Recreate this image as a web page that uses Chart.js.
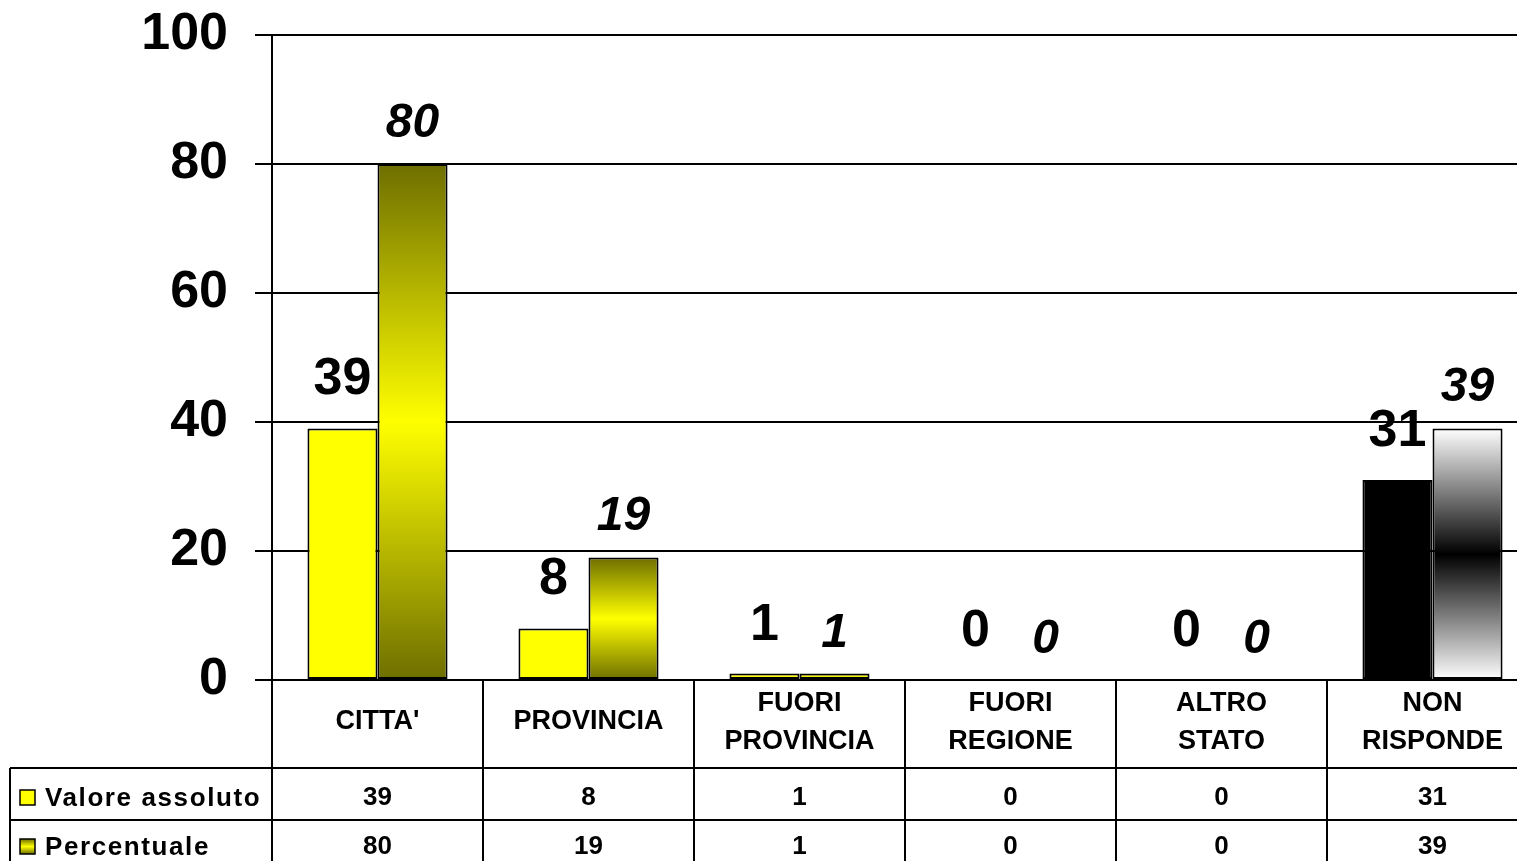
<!DOCTYPE html>
<html>
<head>
<meta charset="utf-8">
<script src="https://cdn.jsdelivr.net/npm/chart.js@4"></script>
<style>
  html, body { margin: 0; padding: 0; background: #fff; overflow: hidden; }
  #wrap { width: 1540px; height: 861px; }
</style>
</head>
<body>
<div id="wrap"><canvas id="grafico" width="1540" height="861"></canvas></div>
<script>
// dati
const categorie = [["CITTA'"], ["PROVINCIA"], ["FUORI", "PROVINCIA"], ["FUORI", "REGIONE"], ["ALTRO", "STATO"], ["NON", "RISPONDE"]];
const valoreAssoluto = [39, 8, 1, 0, 0, 31];
const percentuale = [80, 19, 1, 0, 0, 39];
const nomiSerie = ['Valore assoluto', 'Percentuale'];
const yMin = 0, yMax = 100, yStep = 20;

const FONT = "'Liberation Sans', Arial, sans-serif";
Chart.defaults.font.family = FONT;
Chart.defaults.color = '#000';

const GIALLO = '#FFFF00';
const OLIVA = '#6E6E00';

// gradiente verticale per barra: bordo - centro - bordo
function gradienteBarra(c, bordo, centro) {
    const chart = c.chart;
    if (!chart.chartArea || c.type !== 'data') return centro;
    const y = chart.scales.y;
    const top = y.getPixelForValue(c.raw);
    const base = y.getPixelForValue(0);
    if (base - top < 1) return centro;
    const g = chart.ctx.createLinearGradient(0, top, 0, base);
    g.addColorStop(0, bordo);
    g.addColorStop(0.5, centro);
    g.addColorStop(1, bordo);
    return g;
}

// etichette sopra le barre
const etichette = {
    id: 'etichette',
    afterDatasetsDraw(chart) {
        const ctx = chart.ctx;
        ctx.save();
        ctx.fillStyle = '#000';
        ctx.textAlign = 'center';
        ctx.textBaseline = 'alphabetic';
        chart.data.datasets.forEach((ds, i) => {
            const meta = chart.getDatasetMeta(i);
            ctx.font = i === 0 ? `bold 52px ${FONT}` : `italic bold 48px ${FONT}`;
            const gap = i === 0 ? 34 : 27;
            meta.data.forEach((el, j) => {
                ctx.fillText(String(ds.data[j]), el.x, el.y - gap);
            });
        });
        ctx.restore();
    }
};

// tabella dati sotto il grafico
const tabella = {
    id: 'tabella',
    afterDraw(chart) {
        const ctx = chart.ctx;
        const x = chart.scales.x;
        const area = chart.chartArea;
        const larg = x.getPixelForValue(1) - x.getPixelForValue(0);
        const riga1 = 768, riga2 = 820, fondo = 861;
        const sinistra = 10;

        ctx.save();
        ctx.strokeStyle = '#000';
        ctx.lineWidth = 2;
        ctx.beginPath();
        // asse verticale prolungato
        ctx.moveTo(area.left, area.bottom);
        ctx.lineTo(area.left, fondo + 5);
        // separatori colonne
        for (let i = 1; i < categorie.length; i++) {
            const cx = x.getPixelForValue(i) - larg / 2;
            ctx.moveTo(cx, area.bottom);
            ctx.lineTo(cx, fondo + 5);
        }
        // righe
        ctx.moveTo(sinistra, riga1);
        ctx.lineTo(chart.width, riga1);
        ctx.moveTo(sinistra, riga2);
        ctx.lineTo(chart.width, riga2);
        ctx.moveTo(sinistra, riga1);
        ctx.lineTo(sinistra, fondo + 5);
        ctx.stroke();

        // nomi categorie
        ctx.fillStyle = '#000';
        ctx.textAlign = 'center';
        ctx.textBaseline = 'middle';
        ctx.font = `bold 27px ${FONT}`;
        categorie.forEach((righe, i) => {
            const cx = x.getPixelForValue(i);
            if (righe.length === 1) {
                ctx.fillText(righe[0], cx, 722);
            } else {
                ctx.fillText(righe[0], cx, 704);
                ctx.fillText(righe[1], cx, 742);
            }
        });

        // valori
        ctx.font = `bold 26px ${FONT}`;
        valoreAssoluto.forEach((v, i) => ctx.fillText(String(v), x.getPixelForValue(i), 798));
        percentuale.forEach((v, i) => ctx.fillText(String(v), x.getPixelForValue(i), 847));

        // legenda nella tabella
        ctx.textAlign = 'left';
        ctx.letterSpacing = '1.6px';
        ctx.font = `bold 26px ${FONT}`;
        const righeY = [798, 847];
        righeY.forEach((yy, i) => {
            const sx = 20, sy = yy - 8, s = 15;
            if (i === 0) {
                ctx.fillStyle = GIALLO;
            } else {
                const g = ctx.createLinearGradient(0, sy, 0, sy + s);
                g.addColorStop(0, OLIVA);
                g.addColorStop(0.5, GIALLO);
                g.addColorStop(1, OLIVA);
                ctx.fillStyle = g;
            }
            ctx.fillRect(sx, sy, s, s);
            ctx.lineWidth = 1.5;
            ctx.strokeRect(sx, sy, s, s);
            ctx.fillStyle = '#000';
            ctx.fillText(nomiSerie[i], 45, yy + 1);
        });
        ctx.restore();
    }
};

new Chart(document.getElementById('grafico'), {
    type: 'bar',
    data: {
        labels: categorie,
        datasets: [{
            label: nomiSerie[0],
            data: valoreAssoluto,
            backgroundColor: c => c.dataIndex === 5 ? '#000' : GIALLO,
            borderColor: '#000',
            borderWidth: 2,
            borderSkipped: false
        }, {
            label: nomiSerie[1],
            data: percentuale,
            backgroundColor: c => c.dataIndex === 5
                ? gradienteBarra(c, '#FFFFFF', '#000000')
                : gradienteBarra(c, OLIVA, GIALLO),
            borderColor: '#000',
            borderWidth: 2,
            borderSkipped: false
        }]
    },
    options: {
        responsive: false,
        animation: false,
        devicePixelRatio: 1,
        events: [],
        layout: { padding: { top: 35, right: 2, bottom: 181, left: 0 } },
        datasets: { bar: { categoryPercentage: 0.664, barPercentage: 1 } },
        plugins: {
            legend: { display: false },
            tooltip: { enabled: false }
        },
        scales: {
            x: {
                display: false,
                offset: true,
                grid: { display: false }
            },
            y: {
                min: yMin,
                max: yMax,
                afterFit: s => {
                    s.width = 272;
                    s.paddingTop = 0;
                    s.paddingBottom = 0;
                },
                ticks: {
                    stepSize: yStep,
                    padding: 27,
                    color: '#000',
                    font: { size: 52, weight: 'bold' }
                },
                grid: {
                    color: '#000',
                    lineWidth: 2,
                    tickLength: 17,
                    drawTicks: true
                },
                border: { display: true, color: '#000', width: 2 }
            }
        }
    },
    plugins: [etichette, tabella]
});
</script>
</body>
</html>
